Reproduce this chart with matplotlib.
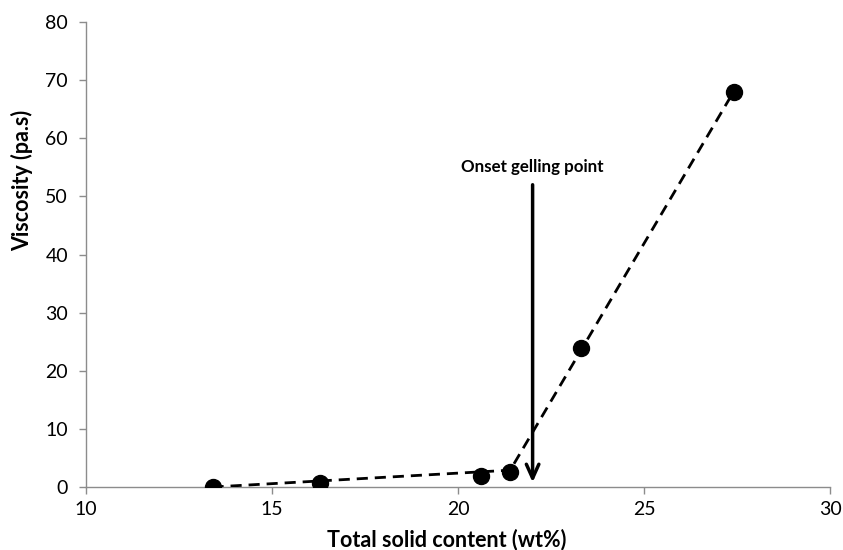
import matplotlib
matplotlib.use("Agg")
import matplotlib.pyplot as plt

plt.rcParams['font.family'] = ['Lato', 'DejaVu Sans']

solid_content = [13.4, 16.3, 20.6, 21.4, 23.3, 27.4]
viscosity = [0.0, 0.7, 1.9, 2.6, 24.0, 68.0]

trend1_x = [13.4, 21.4]
trend1_y = [0.0, 2.9]
trend2_x = [21.5, 27.4]
trend2_y = [4.0, 68.0]

x_ticks = [10, 15, 20, 25, 30]
y_ticks = [0, 10, 20, 30, 40, 50, 60, 70, 80]

onset_x = 22.0
arrow_top = 52.0
arrow_bottom = 0.8
label_y = 55.1

fig = plt.figure(figsize=(8.43, 5.5), dpi=100)
ax = fig.add_axes([0.102, 0.1145, 0.883, 0.8455])

ax.plot(trend1_x, trend1_y, color='black', lw=2.0, dashes=(4, 2.5), zorder=2)
ax.plot(trend2_x, trend2_y, color='black', lw=2.0, dashes=(4, 2.5), zorder=2)
ax.plot(solid_content, viscosity, 'o', color='black', ms=11.5, zorder=3)

ax.annotate('', xy=(onset_x, arrow_bottom), xytext=(onset_x, arrow_top),
            arrowprops=dict(arrowstyle='->,head_length=1.0,head_width=0.45', color='black', lw=2.5,
                            shrinkA=0, shrinkB=0), zorder=4)
ax.text(onset_x, label_y, 'Onset gelling point', ha='center', va='center',
        fontsize=12.2, fontweight='bold')

ax.set_xlim(10, 30)
ax.set_ylim(0, 80)
ax.set_xticks(x_ticks)
ax.set_yticks(y_ticks)
ax.tick_params(axis='both', direction='out', length=5, color='#8c8c8c', labelsize=14, width=1)
ax.tick_params(axis='y', pad=8)
ax.tick_params(axis='x', pad=5)
for s in ['top', 'right']:
    ax.spines[s].set_visible(False)
for s in ['left', 'bottom']:
    ax.spines[s].set_color('#8c8c8c')
    ax.spines[s].set_linewidth(1)
ax.spines['bottom'].set_zorder(1)

ax.set_xlabel('Total solid content (wt%)', fontsize=15.5, fontweight='bold', va='center')
ax.xaxis.set_label_coords(0.484, -0.112)
ax.set_ylabel('Viscosity (pa.s)', fontsize=15.5, fontweight='bold', va='center')
ax.yaxis.set_label_coords(-0.086, 0.66)

fig.savefig('out.png', dpi=100)
